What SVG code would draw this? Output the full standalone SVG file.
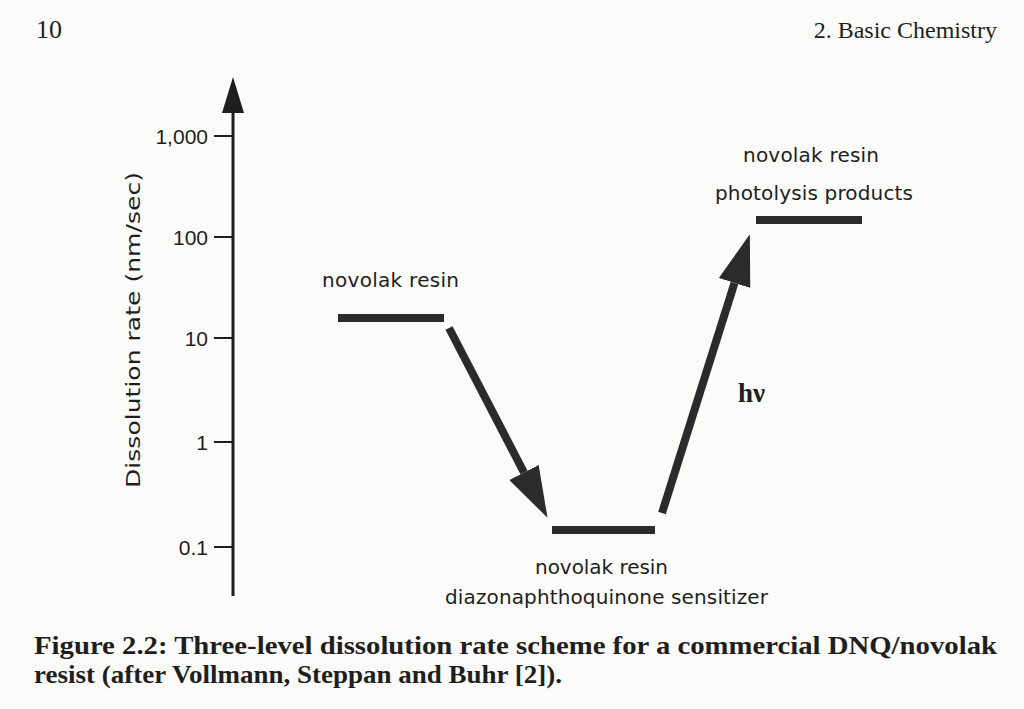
<svg xmlns="http://www.w3.org/2000/svg" width="1024" height="709" viewBox="0 0 1024 709">
  <style>
    .page { font-family: "Liberation Serif", "Times New Roman", serif; fill: #1e1e1e; }
    .cap { font-family: "Liberation Serif", "Times New Roman", serif; font-weight: bold; fill: #1e1e1e; font-size: 25px; }
    .lbl { font-family: "DejaVu Sans", "Liberation Sans", sans-serif; font-size: 20px; fill: #1e1e1e; text-anchor: middle; }
    .tick { font-family: "Liberation Sans", Arial, sans-serif; font-size: 21px; fill: #1e1e1e; text-anchor: end; }
    .level { fill: #2b2b2b; }
    .tk { stroke: #1e1e1e; stroke-width: 2; }
    .conn { stroke: #2b2b2b; stroke-width: 8; fill: none; marker-end: url(#head); }
  </style>
  <defs>
    <marker id="head" viewBox="0 0 51 33" refX="0" refY="16.5" markerWidth="51" markerHeight="33" markerUnits="userSpaceOnUse" orient="auto">
      <path d="M0,0 L51,16.5 L0,33 Z" fill="#2b2b2b"/>
    </marker>
  </defs>
  <rect x="0" y="0" width="1024" height="709" fill="#fbfbfa"/>

  <g id="header">
    <text class="page" x="36" y="38" font-size="26">10</text>
    <text class="page" x="997" y="38" font-size="24" text-anchor="end">2. Basic Chemistry</text>
  </g>

  <g id="axis">
    <line x1="233" y1="596" x2="233" y2="108" stroke="#1e1e1e" stroke-width="3"/>
    <polygon points="233,77 222,113 244,113" fill="#1e1e1e"/>
    <line class="tk" x1="214" y1="136" x2="233" y2="136"/>
    <line class="tk" x1="214" y1="237" x2="233" y2="237"/>
    <line class="tk" x1="214" y1="338" x2="233" y2="338"/>
    <line class="tk" x1="214" y1="442" x2="233" y2="442"/>
    <line class="tk" x1="214" y1="547" x2="233" y2="547"/>
    <text class="tick" x="208" y="144">1,000</text>
    <text class="tick" x="208" y="245">100</text>
    <text class="tick" x="208" y="346">10</text>
    <text class="tick" x="208" y="450">1</text>
    <text class="tick" x="208" y="555">0.1</text>
    <text class="lbl" transform="translate(140,330) rotate(-90)" x="0" y="0" font-size="28" textLength="316" lengthAdjust="spacingAndGlyphs">Dissolution rate (nm/sec)</text>
  </g>

  <g id="level-novolak">
    <rect class="level" x="338" y="314" width="106" height="8"/>
    <text class="lbl" x="390.5" y="287" textLength="137" lengthAdjust="spacing">novolak resin</text>
  </g>

  <g id="level-dnq">
    <rect class="level" x="552" y="526" width="103" height="8"/>
    <text class="lbl" x="601.5" y="574" textLength="133" lengthAdjust="spacing">novolak resin</text>
    <text class="lbl" x="606.5" y="604" textLength="323" lengthAdjust="spacing">diazonaphthoquinone sensitizer</text>
  </g>

  <g id="level-photolysis">
    <rect class="level" x="756" y="216" width="106" height="8"/>
    <text class="lbl" x="811" y="162" textLength="136" lengthAdjust="spacing">novolak resin</text>
    <text class="lbl" x="814" y="200" textLength="198" lengthAdjust="spacing">photolysis products</text>
  </g>

  <g id="connectors">
    <line class="conn" x1="449" y1="328" x2="524" y2="472.5"/>
    <line class="conn" x1="662" y1="513" x2="734.5" y2="283"/>
    <text x="738" y="402" font-family="Liberation Serif, serif" font-weight="bold" font-size="27" fill="#1e1e1e">hν</text>
  </g>

  <g id="caption">
    <text class="cap" x="34" y="654" textLength="963" lengthAdjust="spacingAndGlyphs">Figure 2.2: Three-level dissolution rate scheme for a commercial DNQ/novolak</text>
    <text class="cap" x="34" y="683" textLength="528" lengthAdjust="spacingAndGlyphs">resist (after Vollmann, Steppan and Buhr [2]).</text>
  </g>
</svg>
